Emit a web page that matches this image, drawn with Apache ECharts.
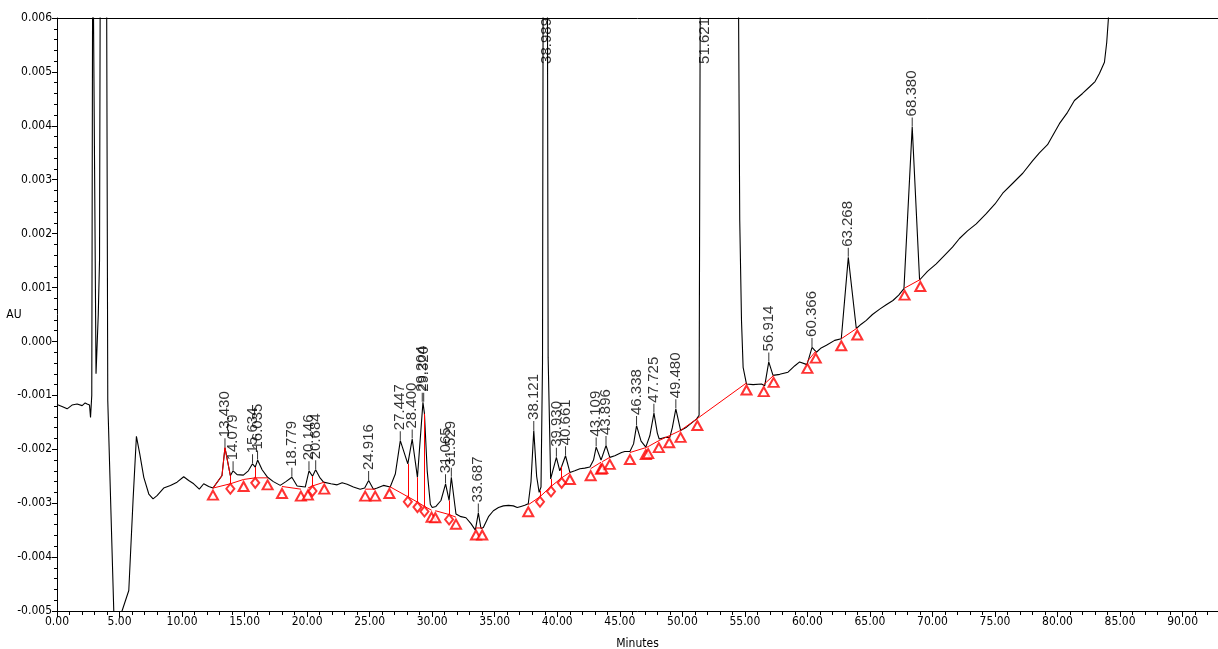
<!DOCTYPE html>
<html>
<head>
<meta charset="utf-8">
<title>Chromatogram</title>
<script src="https://cdn.jsdelivr.net/npm/echarts@6/dist/echarts.min.js"></script>
<style>
  html, body { margin: 0; padding: 0; background: #fff; }
  #chart { width: 1218px; height: 649px; }
</style>
</head>
<body>
<div id="chart"></div>
<script>
// detector trace, [minutes, AU] (off-scale parts set above/below the axis range, they get clipped)
var trace = [
  [0.00,-0.00117],[0.14,-0.00116],[0.45,-0.00121],[0.81,-0.00125],[1.20,-0.00118],[1.61,-0.00116],
  [2.01,-0.00119],[2.25,-0.00114],[2.41,-0.00116],[2.60,-0.00118],[2.68,-0.00141],[2.78,-0.00100],
  [2.86,0.008],[3.00,0.008],[3.12,-0.00060],[3.30,0.00050],[3.40,0.00150],[3.47,0.008],[3.95,0.008],
  [4.06,-0.00110],[4.54,-0.00500],[4.85,-0.00620],[5.20,-0.00500],[5.74,-0.00462],[6.08,-0.00295],
  [6.35,-0.00176],[6.62,-0.00209],[6.94,-0.00252],[7.34,-0.00283],[7.68,-0.00292],[8.00,-0.00286],
  [8.53,-0.00272],[9.07,-0.00267],[9.60,-0.00261],[10.13,-0.00251],[10.53,-0.00258],[10.93,-0.00264],
  [11.38,-0.00274],[11.73,-0.00264],[12.13,-0.00269],[12.47,-0.00272],[13.19,-0.00249],[13.43,-0.00197],
  [13.86,-0.00249],[14.08,-0.00240],[14.40,-0.00247],[14.90,-0.00248],[15.30,-0.00240],[15.63,-0.00227],
  [15.85,-0.00233],[16.04,-0.00220],[16.40,-0.00238],[16.84,-0.00252],[17.30,-0.00260],[17.85,-0.00267],
  [18.30,-0.00260],[18.78,-0.00252],[19.20,-0.00268],[19.85,-0.00270],[20.15,-0.00240],[20.43,-0.00250],
  [20.68,-0.00238],[21.00,-0.00252],[21.31,-0.00261],[21.90,-0.00264],[22.40,-0.00266],[22.80,-0.00262],
  [23.20,-0.00265],[23.70,-0.00270],[24.24,-0.00274],[24.60,-0.00272],[24.92,-0.00258],[25.30,-0.00274],
  [25.60,-0.00272],[26.10,-0.00267],[26.64,-0.00270],[27.05,-0.00246],[27.45,-0.00184],[28.05,-0.00227],
  [28.40,-0.00181],[28.82,-0.00252],[29.26,-0.00113],[29.38,-0.00134],[29.60,-0.00240],[29.85,-0.00302],
  [30.00,-0.00308],[30.30,-0.00306],[30.70,-0.00295],[31.07,-0.00264],[31.35,-0.00295],[31.53,-0.00252],
  [31.90,-0.00320],[32.30,-0.00325],[32.70,-0.00327],[33.10,-0.00338],[33.45,-0.00350],[33.69,-0.00318],
  [33.90,-0.00347],[34.09,-0.00345],[34.50,-0.00325],[34.89,-0.00314],[35.30,-0.00308],[35.69,-0.00305],
  [36.10,-0.00304],[36.49,-0.00305],[36.80,-0.00308],[37.10,-0.00306],[37.40,-0.00304],[37.68,-0.00301],
  [37.90,-0.00260],[38.12,-0.00165],[38.35,-0.00250],[38.55,-0.00280],[38.62,-0.00277],[38.70,-0.00270],
  [38.82,-0.00040],[38.88,0.008],[39.20,0.008],[39.27,-0.00030],[39.47,-0.00255],[39.93,-0.00215],
  [40.20,-0.00240],[40.35,-0.00232],[40.66,-0.00212],[41.01,-0.00243],[41.40,-0.00240],[41.81,-0.00236],
  [42.20,-0.00235],[42.61,-0.00233],[42.90,-0.00220],[43.11,-0.00196],[43.50,-0.00220],[43.90,-0.00193],
  [44.20,-0.00215],[44.60,-0.00212],[45.14,-0.00206],[45.40,-0.00204],[45.81,-0.00204],[46.10,-0.00190],
  [46.34,-0.00156],[46.70,-0.00185],[47.08,-0.00196],[47.40,-0.00175],[47.73,-0.00133],[48.00,-0.00170],
  [48.15,-0.00181],[48.60,-0.00178],[49.00,-0.00178],[49.20,-0.00160],[49.48,-0.00125],[49.86,-0.00165],
  [50.33,-0.00159],[50.80,-0.00150],[51.13,-0.00144],[51.34,-0.00137],[51.45,0.008],[54.45,0.008],
  [54.59,0.00225],[54.73,0.00039],[54.86,-0.00048],[55.13,-0.00079],[55.66,-0.00080],[56.33,-0.00079],
  [56.59,-0.00082],[56.91,-0.00038],[57.25,-0.00063],[57.79,-0.00061],[58.45,-0.00057],[59.00,-0.00045],
  [59.38,-0.00038],[59.97,-0.00043],[60.37,-0.00011],[60.72,-0.00020],[61.10,-0.00012],[61.52,-0.00007],
  [62.18,0.00002],[62.71,0.00005],[63.27,0.00156],[63.91,0.00024],[64.30,0.00032],[64.71,0.00039],
  [65.20,0.00050],[65.78,0.00060],[66.30,0.00068],[66.84,0.00076],[67.30,0.00086],[67.72,0.00098],
  [68.38,0.00398],[68.97,0.00114],[69.60,0.00130],[70.30,0.00144],[71.10,0.00163],[71.60,0.00175],
  [72.16,0.00191],[72.80,0.00205],[73.50,0.00218],[74.30,0.00237],[75.00,0.00255],[75.62,0.00275],
  [76.40,0.00293],[77.22,0.00312],[78.00,0.00335],[78.55,0.00350],[79.20,0.00365],[80.15,0.00404],
  [80.80,0.00425],[81.35,0.00447],[82.00,0.00460],[82.55,0.00472],[83.00,0.00482],[83.35,0.00497],
  [83.75,0.00518],[83.93,0.00554],[84.07,0.00600],[84.20,0.008],[92.83,0.008]
];

// red overlay on the 13.43 peak
var redPeak = [[12.47,-0.00272],[13.19,-0.00249],[13.43,-0.00197],[13.86,-0.00249]];

// integration baselines
var baselines = [
  [[12.47,-0.00272],[13.86,-0.00264],[14.92,-0.00256],[15.85,-0.00253],[16.84,-0.00253]],
  [[17.99,-0.00269],[19.50,-0.00274]],
  [[20.06,-0.00272],[20.43,-0.00268],[21.37,-0.00261]],
  [[24.64,-0.00274],[25.44,-0.00274]],
  [[26.58,-0.00269],[28.05,-0.00288],[28.82,-0.00298],[29.38,-0.00306],[29.95,-0.00313]],
  [[30.25,-0.00314],[31.35,-0.00321],[31.90,-0.00326]],
  [[33.50,-0.00346],[34.00,-0.00346]],
  [[37.68,-0.00303],[38.62,-0.00288],[39.50,-0.00269],[40.35,-0.00253],[41.01,-0.00243]],
  [[42.67,-0.00236],[43.50,-0.00224]],
  [[43.60,-0.00223],[44.20,-0.00215]],
  [[45.81,-0.00206],[47.08,-0.00197],[47.27,-0.00195],[48.12,-0.00184],[48.95,-0.00175],
   [49.86,-0.00165],[51.20,-0.00143],[55.13,-0.00077]],
  [[56.51,-0.00080],[57.30,-0.00063]],
  [[60.00,-0.00037],[60.67,-0.00018]],
  [[62.71,0.00005],[63.99,0.00025]],
  [[67.77,0.00099],[69.03,0.00115]]
];

var triangleMarks = [
  [12.47,-0.00272],[14.92,-0.00256],[16.84,-0.00253],[17.99,-0.00269],[19.50,-0.00274],
  [20.06,-0.00272],[21.37,-0.00261],[24.64,-0.00274],[25.44,-0.00274],[26.58,-0.00269],
  [29.95,-0.00313],[30.25,-0.00314],[31.90,-0.00326],[33.50,-0.00346],[34.00,-0.00346],
  [37.68,-0.00303],[41.01,-0.00243],[42.67,-0.00236],[43.50,-0.00224],[43.60,-0.00223],
  [44.20,-0.00215],[45.81,-0.00206],[47.08,-0.00197],[47.27,-0.00195],[48.12,-0.00184],
  [48.95,-0.00175],[49.86,-0.00165],[51.20,-0.00143],[55.13,-0.00077],[56.51,-0.00080],
  [57.30,-0.00063],[60.00,-0.00037],[60.67,-0.00018],[62.71,0.00005],[63.99,0.00025],
  [67.77,0.00099],[69.03,0.00115]
];

var diamondMarks = [
  [13.86,-0.00264],[15.85,-0.00253],[20.43,-0.00268],[28.05,-0.00288],[28.82,-0.00298],
  [29.38,-0.00306],[31.35,-0.00321],[38.62,-0.00288],[39.50,-0.00269],[40.35,-0.00253]
];

// drop lines: [minutes, baseline AU, signal AU]
var dropLines = [
  [13.86,-0.00264,-0.00249],[15.85,-0.00253,-0.00233],[20.43,-0.00268,-0.00250],
  [28.05,-0.00288,-0.00227],[28.82,-0.00298,-0.00252],[29.38,-0.00306,-0.00134],
  [31.35,-0.00321,-0.00295],[38.62,-0.00288,-0.00277],[39.50,-0.00269,-0.00255],
  [40.35,-0.00253,-0.00232]
];

// labelled peaks: retention time label, apex
var peakNames = ['13.430','14.079','15.634','16.035','18.779','20.146','20.684','24.916','27.447',
  '28.400','29.204','29.320','31.065','31.529','33.687','38.121','39.930','40.661','43.109','43.896',
  '46.338','47.725','49.480','56.914','60.366','63.268','68.380'];
var peakApex = [-0.00197,-0.00240,-0.00227,-0.00220,-0.00252,-0.00240,-0.00238,-0.00258,-0.00184,
  -0.00181,-0.00113,-0.00113,-0.00264,-0.00252,-0.00318,-0.00165,-0.00215,-0.00212,-0.00196,-0.00193,
  -0.00156,-0.00133,-0.00125,-0.00038,-0.00011,0.00156,0.00398];
var offScaleNames = ['38.989','51.621'];

var xMin = 0, xMax = 92.83, yMin = -0.005, yMax = 0.006;

var font = "'Liberation Sans', Arial, sans-serif";
var narrow = "'Liberation Sans Narrow', 'DejaVu Sans Condensed', Arial, sans-serif";

var series = [];

series.push({
  type: 'line', data: trace, showSymbol: false, symbol: 'none',
  lineStyle: { color: '#000', width: 1.1 }, z: 3, animation: false, clip: true
});

series.push({
  type: 'line', data: redPeak, symbol: 'none',
  lineStyle: { color: '#ff0000', width: 1 }, z: 4, animation: false
});

baselines.forEach(function (g) {
  series.push({
    type: 'line', data: g, symbol: 'none',
    lineStyle: { color: '#ff0000', width: 1 }, z: 4, animation: false
  });
});

series.push({
  type: 'lines', coordinateSystem: 'cartesian2d', z: 4, animation: false,
  lineStyle: { color: '#ff0000', width: 1, opacity: 1 },
  data: dropLines.map(function (d) { return { coords: [[d[0], d[1]], [d[0], d[2]]] }; })
});

series.push({
  type: 'scatter', data: triangleMarks, symbol: 'emptyTriangle', symbolSize: [10, 9],
  symbolOffset: [0, 7], itemStyle: { color: '#ff0000', borderWidth: 1 }, z: 5, animation: false
});

series.push({
  type: 'scatter', data: diamondMarks, symbol: 'emptyDiamond', symbolSize: [8, 10],
  symbolOffset: [0, 5], itemStyle: { color: '#ff0000', borderWidth: 1 }, z: 5, animation: false
});

series.push({
  type: 'scatter', z: 6, animation: false,
  data: peakNames.map(function (n, i) { return { name: n, value: [parseFloat(n), peakApex[i]] }; }),
  symbol: 'rect', symbolSize: [1, 9], symbolOffset: [0, -5],
  itemStyle: { color: '#000' },
  label: {
    show: true, position: 'top', distance: 1, rotate: 90, align: 'left', verticalAlign: 'middle',
    formatter: '{b}', color: '#000', fontFamily: font, fontSize: 15
  }
});

series.push({
  type: 'scatter', z: 6, animation: false,
  data: offScaleNames.map(function (n) { return { name: n, value: [parseFloat(n), yMax] }; }),
  symbolSize: 1, itemStyle: { color: 'rgba(0,0,0,0)' },
  label: {
    show: true, position: 'inside', rotate: 90, align: 'right', verticalAlign: 'middle',
    offset: [0, 2], formatter: '{b}', color: '#000', fontFamily: font, fontSize: 15
  }
});

var chart = echarts.init(document.getElementById('chart'));
chart.setOption({
  backgroundColor: '#fff',
  animation: false,
  grid: { left: 57, right: 0, top: 18, bottom: 38, containLabel: false, outerBoundsMode: 'none' },
  xAxis: [{
    type: 'value', min: xMin, max: xMax, interval: 5, position: 'bottom',
    name: 'Minutes', nameLocation: 'middle', nameGap: 27,
    nameTextStyle: { fontFamily: narrow, fontSize: 12, color: '#000' },
    axisLine: { show: true, onZero: false, lineStyle: { color: '#000', width: 1 } },
    axisTick: { show: true, length: 6, lineStyle: { color: '#000' } },
    minorTick: { show: true, splitNumber: 5, length: 4, lineStyle: { color: '#000' } },
    splitLine: { show: false },
    axisLabel: {
      fontFamily: narrow, fontSize: 12, color: '#000', margin: 5, showMaxLabel: false,
      formatter: function (v) { return v.toFixed(2); }
    }
  }, {
    type: 'value', position: 'top', min: xMin, max: xMax,
    axisLine: { show: true, onZero: false, lineStyle: { color: '#000', width: 1 } },
    axisTick: { show: false }, axisLabel: { show: false }, splitLine: { show: false }
  }],
  yAxis: {
    type: 'value', min: yMin, max: yMax, interval: 0.001,
    name: 'AU', nameLocation: 'middle', nameRotate: 0, nameGap: 43, nameMoveOverlap: false,
    nameTextStyle: { fontFamily: narrow, fontSize: 12, color: '#000', align: 'center' },
    axisLine: { show: true, onZero: false, lineStyle: { color: '#000', width: 1 } },
    axisTick: { show: true, length: 5, lineStyle: { color: '#000' } },
    minorTick: { show: true, splitNumber: 5, length: 3, lineStyle: { color: '#000' } },
    splitLine: { show: false },
    axisLabel: {
      fontFamily: narrow, fontSize: 12, color: '#000', margin: 5,
      formatter: function (v) { return Math.abs(v) < 1e-9 ? '0.000' : v.toFixed(3); }
    }
  },
  series: series
});
</script>
</body>
</html>
